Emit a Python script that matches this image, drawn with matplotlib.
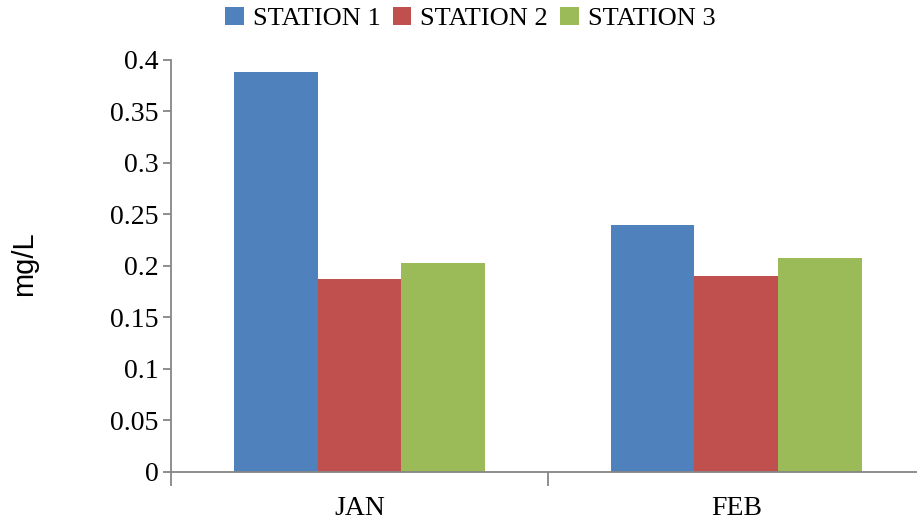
import matplotlib
matplotlib.use("Agg")
import matplotlib.pyplot as plt
import numpy as np

months = ["JAN", "FEB"]
series_names = ["STATION 1", "STATION 2", "STATION 3"]
station1 = [0.388, 0.240]
station2 = [0.187, 0.190]
station3 = [0.203, 0.208]
yticks = [0, 0.05, 0.1, 0.15, 0.2, 0.25, 0.3, 0.35, 0.4]
ytick_labels = ["0", "0.05", "0.1", "0.15", "0.2", "0.25", "0.3", "0.35", "0.4"]

colors = ["#4F81BD", "#C0504D", "#9BBB59"]
axis_grey = "#868686"
serif = ["Liberation Serif", "DejaVu Serif"]

fig = plt.figure(figsize=(9.17, 5.25), dpi=100)
# the plot area runs a little past the right edge of the figure
ax = fig.add_axes([0.1865, 0.101, 0.822, 0.7848])

x = np.arange(len(months))
bar_w = 0.667 / 3
for i, (vals, name, c) in enumerate(zip([station1, station2, station3], series_names, colors)):
    ax.bar(x + (i - 1) * bar_w, vals, width=bar_w, color=c, label=name, linewidth=0)

ax.set_ylim(0, 0.4)
ax.set_xlim(-0.5, 1.5)
ax.set_yticks(yticks)
ax.set_yticklabels(ytick_labels, fontfamily=serif, fontsize=20)

# category labels centred under groups; tick marks at group boundaries
ax.set_xticks([-0.5, 0.5, 1.5])
ax.set_xticklabels([])
ax.set_xticks(x, minor=True)
ax.set_xticklabels(months, minor=True, fontfamily=serif, fontsize=20)
ax.tick_params(axis="x", which="minor", length=0, pad=17)
ax.tick_params(axis="x", which="major", length=10, width=1.3, color=axis_grey, direction="out")
ax.tick_params(axis="y", length=6, width=1.3, color=axis_grey, direction="out", pad=3)

for s in ["top", "right"]:
    ax.spines[s].set_visible(False)
for s in ["left", "bottom"]:
    ax.spines[s].set_color(axis_grey)
    ax.spines[s].set_linewidth(1.3)

fig.text(0.026, 0.497, "mg/L", rotation=90, va="center", ha="center",
         fontfamily=["Liberation Sans", "DejaVu Sans"], fontsize=21)

handles, labels = ax.get_legend_handles_labels()
fig.legend(handles, labels, loc="center", bbox_to_anchor=(0.513, 0.965), ncol=3,
           frameon=False, prop={"family": serif, "size": 19},
           handlelength=0.7, handleheight=0.7, handletextpad=0.35, columnspacing=0.45)

fig.savefig("out.png", dpi=100)
